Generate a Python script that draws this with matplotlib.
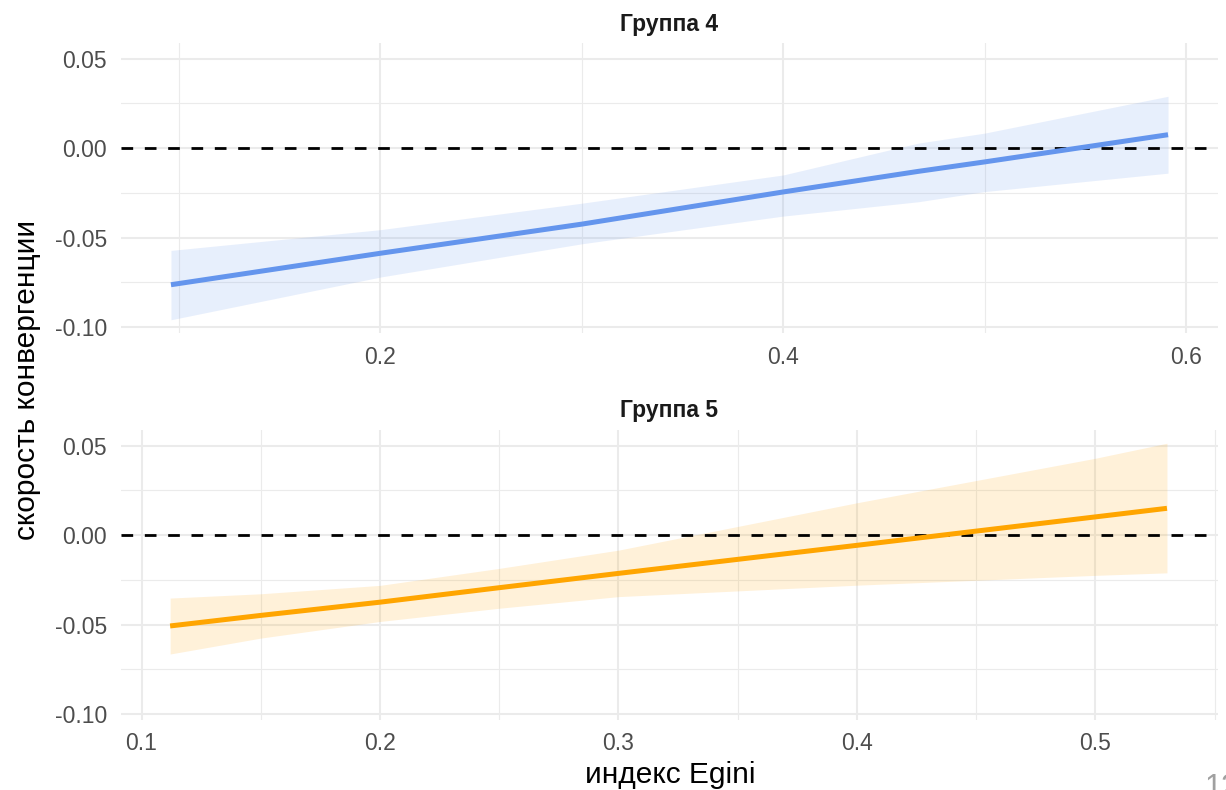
import matplotlib
matplotlib.use("Agg")
import matplotlib.pyplot as plt
from matplotlib.ticker import FixedLocator, FuncFormatter

plt.rcParams['font.family'] = ['Liberation Sans', 'DejaVu Sans']

# Группа 4: fitted line and confidence band
x4 = [0.096, 0.2, 0.3, 0.4, 0.467, 0.5, 0.591]
fit4 = [-0.0764, -0.0588, -0.0425, -0.0245, -0.0130, -0.0077, 0.0075]
upper4 = [-0.0572, -0.0456, -0.0308, -0.0150, 0.0028, 0.0084, 0.0290]
lower4 = [-0.0960, -0.0721, -0.0535, -0.0380, -0.0300, -0.0243, -0.0140]

# Группа 5: fitted line and confidence band
x5 = [0.112, 0.15, 0.2, 0.25, 0.3, 0.4, 0.5, 0.53]
fit5 = [-0.0508, -0.0449, -0.0375, -0.0294, -0.0214, -0.0057, 0.0102, 0.0150]
upper5 = [-0.0352, -0.0328, -0.0281, -0.0186, -0.0084, 0.0181, 0.0430, 0.0514]
lower5 = [-0.0665, -0.0576, -0.0483, -0.0409, -0.0344, -0.0280, -0.0225, -0.0211]

panel_titles = ["Группа 4", "Группа 5"]
y_ticks = [-0.10, -0.05, 0.00, 0.05]
x_ticks4 = [0.2, 0.4, 0.6]
x_ticks5 = [0.1, 0.2, 0.3, 0.4, 0.5]

W, H = 1226, 790
fig = plt.figure(figsize=(W / 100, H / 100), dpi=100)
fig.patch.set_facecolor("white")


def px_axes(left, top, right, bottom):
    return fig.add_axes([left / W, 1 - bottom / H, (right - left) / W, (bottom - top) / H])


ax4 = px_axes(121, 43, 1218, 333)
ax5 = px_axes(121, 430, 1218, 720)

ylim = (-0.1034, 0.0588)


def style(ax, xlim, xmajor, xminor):
    ax.set_xlim(*xlim)
    ax.set_ylim(*ylim)
    for s in ax.spines.values():
        s.set_visible(False)
    ax.xaxis.set_major_locator(FixedLocator(xmajor))
    ax.xaxis.set_minor_locator(FixedLocator(xminor))
    ax.yaxis.set_major_locator(FixedLocator(y_ticks))
    ax.yaxis.set_minor_locator(FixedLocator([-0.075, -0.025, 0.025]))
    ax.grid(which="major", color="#EBEBEB", lw=1.5)
    ax.grid(which="minor", color="#EBEBEB", lw=0.8)
    ax.set_axisbelow(True)
    ax.tick_params(which="both", length=0, labelsize=16.5, labelcolor="#4D4D4D")
    ax.tick_params(axis="x", pad=9)
    ax.tick_params(axis="y", pad=10)
    ax.xaxis.set_major_formatter(FuncFormatter(lambda v, p: f"{v:.1f}"))
    ax.yaxis.set_major_formatter(FuncFormatter(lambda v, p: f"{v:.2f}"))


style(ax4, (0.0712, 0.6158), x_ticks4, [0.1, 0.3, 0.5])
style(ax5, (0.0914, 0.5514), x_ticks5, [0.15, 0.25, 0.35, 0.45, 0.55])

for ax, x, fit, lo, up, col, title in [
    (ax4, x4, fit4, lower4, upper4, "#6495ED", panel_titles[0]),
    (ax5, x5, fit5, lower5, upper5, "#FFA500", panel_titles[1]),
]:
    ax.fill_between(x, lo, up, color=col, alpha=0.15, lw=0, zorder=2)
    ax.axhline(0, color="black", lw=2, dashes=(4.2, 4.2), zorder=3)
    ax.plot(x, fit, color=col, lw=3.6, solid_capstyle="butt", zorder=4)
    ax.set_title(title, fontsize=16.5, fontweight="bold", color="#1A1A1A", pad=9)

fig.text(27 / W, 1 - 380 / H, "скорость конвергенции", rotation=90,
         ha="center", va="center", fontsize=21.5, color="black")
fig.text(670 / W, 1 - 775 / H, "индекс Egini", ha="center", va="center",
         fontsize=21.5, color="black")
fig.text(1205 / W, 1 - 773 / H, "12", ha="left", va="top",
         fontsize=22, color="#A0A0A0")

fig.savefig("out.png", dpi=100, facecolor="white")
